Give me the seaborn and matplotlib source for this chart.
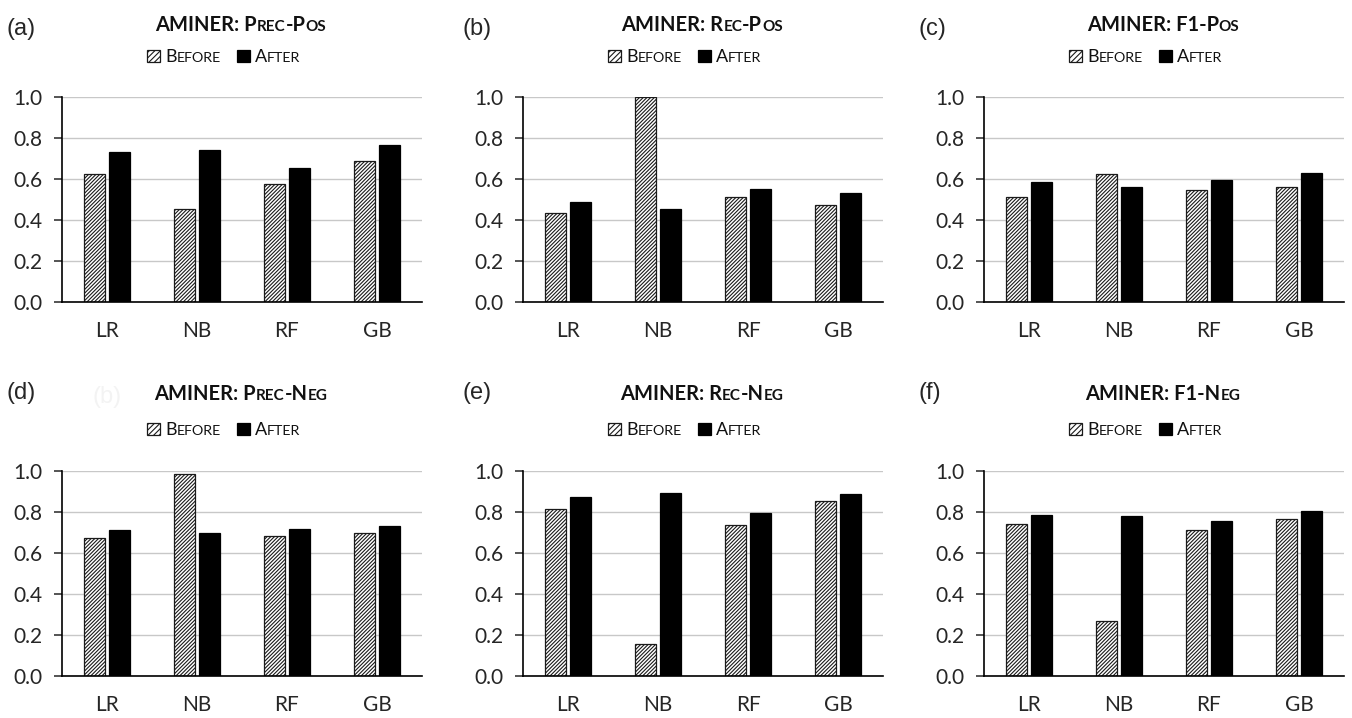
import pandas as pd
import numpy as np
import matplotlib
matplotlib.use('Agg')
import matplotlib.pyplot as plt
from matplotlib.patches import Rectangle
import seaborn as sns

# Datos
models = ['LR', 'NB', 'RF', 'GB']
phases = ['Before', 'After']

prec_pos_before = [0.623, 0.452, 0.576, 0.689]
prec_pos_after = [0.732, 0.740, 0.652, 0.766]
rec_pos_before = [0.436, 1.000, 0.514, 0.473]
rec_pos_after = [0.489, 0.454, 0.551, 0.530]
f1_pos_before = [0.511, 0.623, 0.545, 0.559]
f1_pos_after = [0.587, 0.561, 0.597, 0.628]
prec_neg_before = [0.673, 0.987, 0.685, 0.696]
prec_neg_after = [0.712, 0.699, 0.719, 0.732]
rec_neg_before = [0.815, 0.156, 0.735, 0.852]
rec_neg_after = [0.872, 0.891, 0.793, 0.886]
f1_neg_before = [0.740, 0.268, 0.711, 0.767]
f1_neg_after = [0.787, 0.782, 0.758, 0.803]

panel_labels = ['(a)', '(b)', '(c)', '(d)', '(e)', '(f)']
titles = ['AMINER: Prec-Pos', 'AMINER: Rec-Pos', 'AMINER: F1-Pos',
          'AMINER: Prec-Neg', 'AMINER: Rec-Neg', 'AMINER: F1-Neg']
series = [(prec_pos_before, prec_pos_after), (rec_pos_before, rec_pos_after),
          (f1_pos_before, f1_pos_after), (prec_neg_before, prec_neg_after),
          (rec_neg_before, rec_neg_after), (f1_neg_before, f1_neg_after)]

# Configuracion visual
sns.set_style('white')
plt.rcParams['font.family'] = ['Lato', 'DejaVu Sans']
plt.rcParams['hatch.linewidth'] = 0.8

W, H = 1352, 718
fig = plt.figure(figsize=(W / 100, H / 100), dpi=100)
renderer = fig.canvas.get_renderer()
HATCH = '/////////'


def smallcaps(x_px, base_px, s, big, small, ha='center', **kw):
    # emula versalitas: minusculas -> mayusculas mas pequenas
    runs = []
    for ch in s:
        sm = ch.islower()
        if runs and runs[-1][1] == sm:
            runs[-1][0] += ch.upper()
        else:
            runs.append([ch.upper(), sm])
    items = []
    for t, sm in runs:
        txt = fig.text(0, 1 - base_px / H, t, fontsize=small if sm else big,
                       va='baseline', ha='left', **kw)
        items.append((txt, txt.get_window_extent(renderer).width))
    total = sum(w for _, w in items)
    x = x_px - total / 2 if ha == 'center' else x_px
    for txt, w in items:
        txt.set_x(x / W)
        x += w
    return x


# posiciones de los ejes en pixeles (izquierda, arriba)
lefts = [62, 523, 984]
tops = [97, 471]
ax_w, ax_h = 360, 205
label_x = [6, 463, 918]

for i, (title, (before, after)) in enumerate(zip(titles, series)):
    r, c = divmod(i, 3)
    left, top = lefts[c], tops[r]
    ax = fig.add_axes([left / W, 1 - (top + ax_h) / H, ax_w / W, ax_h / H])

    df = pd.DataFrame({
        'modelo': models * 2,
        'fase': ['Before'] * 4 + ['After'] * 4,
        'valor': before + after,
    })
    sns.barplot(data=df, x='modelo', y='valor', hue='fase', order=models,
                hue_order=phases, palette={'Before': 'white', 'After': 'black'},
                saturation=1, width=0.56, gap=0.14, edgecolor='black',
                linewidth=0.9, legend=False, ax=ax)
    for bar in ax.containers[0]:
        bar.set_hatch(HATCH)
        bar.set_edgecolor('#1a1a1a')

    ax.set_xlim(-0.5, 3.5)
    ax.set_ylim(0, 1.0)
    ax.set_yticks(np.arange(0, 1.01, 0.2))
    ax.set_yticklabels([f'{v:.1f}' for v in np.arange(0, 1.01, 0.2)])
    ax.set_xticks([-0.5, 0.5, 1.5, 2.5], minor=True)
    ax.tick_params(axis='x', which='major', length=0, pad=14, labelsize=15)
    ax.tick_params(axis='x', which='minor', length=6, width=1.1, direction='out')
    ax.tick_params(axis='y', length=6, width=1.1, direction='out', pad=8,
                   labelsize=15, left=True)
    ax.grid(axis='y', color='#c8c8c8', linewidth=1)
    ax.set_axisbelow(True)
    ax.set_xlabel('')
    ax.set_ylabel('')
    for side in ['top', 'right']:
        ax.spines[side].set_visible(False)
    for side in ['left', 'bottom']:
        ax.spines[side].set_color('black')
        ax.spines[side].set_linewidth(1.2)

    # titulo y leyenda
    center = left + ax_w / 2 - 1
    title_base = 31 + r * 369
    leg_base = 62 + r * 373
    smallcaps(center, title_base, title, 14.5, 11, fontweight='bold', color='#111111')

    x0 = left + 85
    sq = 13
    fig.add_artist(Rectangle((x0 / W, 1 - leg_base / H), sq / W, (sq - 1) / H,
                             transform=fig.transFigure, facecolor='white',
                             edgecolor='#1a1a1a', hatch='//////', linewidth=0.9))
    xe = smallcaps(x0 + sq + 5, leg_base, 'Before', 13, 10.3, ha='left', color='#111111')
    x1 = xe + 16
    fig.add_artist(Rectangle((x1 / W, 1 - leg_base / H), sq / W, (sq - 1) / H,
                             transform=fig.transFigure, facecolor='black',
                             edgecolor='black', linewidth=0.9))
    smallcaps(x1 + sq + 5, leg_base, 'After', 13, 10.3, ha='left', color='#111111')

    fig.text(label_x[c] / W, 1 - (29 + r * 364) / H, panel_labels[i],
             family=['Liberation Sans', 'DejaVu Sans'], fontsize=17, va='center')

# rastro tenue presente en el original
fig.text(93 / W, 1 - 397 / H, '(b)', family=['Liberation Sans', 'DejaVu Sans'],
         fontsize=17, va='center', color='#f3f3f3')

fig.savefig('out.png', dpi=100, facecolor='white')
